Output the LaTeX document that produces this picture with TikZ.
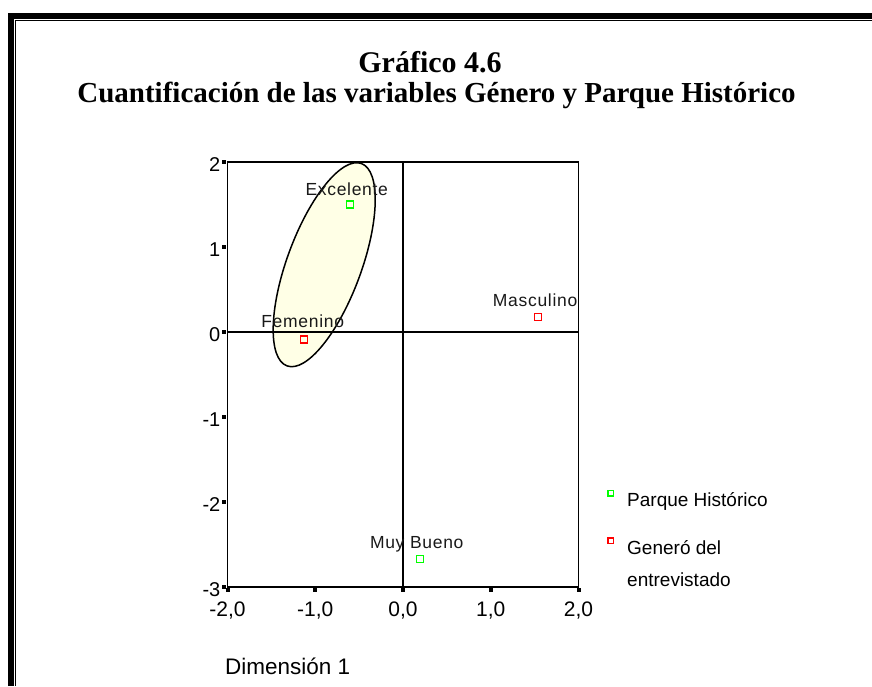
\documentclass[tikz,border=0pt]{standalone}
\usepackage{fontspec}
\setmainfont{Liberation Serif}
\setsansfont{Liberation Sans}
\newfontfamily\ptfont[LetterSpace=4]{Liberation Sans}
\usetikzlibrary{positioning}

\definecolor{ellfill}{RGB}{255,255,230}
\definecolor{markgreen}{RGB}{0,255,0}
\definecolor{markred}{RGB}{255,0,0}

\tikzset{
  gmark/.style={rectangle, draw=markgreen, line width=1.4pt, minimum size=7pt, inner sep=0pt},
  rmark/.style={gmark, draw=markred},
  legmark/.style={minimum size=5.5pt, line width=1.3pt},
  ptlabel/.style={anchor=base, inner sep=0pt, text=black!90, font={\ptfont\fontsize{17.5}{17.5}\selectfont}},
  ticklabel/.style={inner sep=0pt, font={\sffamily\fontsize{20}{20}\selectfont}},
  legtext/.style={anchor=base west, inner sep=0pt, font={\sffamily\fontsize{19}{19}\selectfont}},
  axisline/.style={line width=1.8pt},
}

\begin{document}
\begin{tikzpicture}[x=1pt, y=-1pt]

\useasboundingbox (0,0) rectangle (872,686);

% double frame round the page
\draw [line width=6pt, line join=miter] (11,686) -- (11,16) -- (872,16);
\draw [line width=1.2pt, line join=miter] (15.6,686) -- (15.6,20.6) -- (872,20.6);

\node [anchor=base, inner sep=0pt, font={\bfseries\fontsize{30}{30}\selectfont}] (title)
 at (430, 72.7) {Gráfico 4.6};
\node [anchor=base, inner sep=0pt, font={\bfseries\fontsize{29}{29}\selectfont}] (subtitle)
 at (436.5, 102.7) {Cuantificación de las variables Género y Parque Histórico};

% highlighted group
\draw [line width=1.5pt, fill=ellfill, rotate around={69.8:(324.2,264.7)}]
 (324.2,264.7) ellipse [x radius=107.8pt, y radius=37.2pt];

\begin{scope}[shift={(403,332)}, x=87.75pt, y=85pt]

\draw [axisline] (-2,-3) rectangle (2,2);
\draw [axisline] (-2,0) -- (2,0);
\draw [axisline] (0,-3) -- (0,2);

\foreach \yv in {-3,...,2}{
  \fill ([xshift=-5.5pt, yshift=-2pt]-2,\yv) rectangle ([xshift=-2pt, yshift=2pt]-2,\yv);
  \node [ticklabel, anchor=base east] (ytick\yv) at ([xshift=-7pt, yshift=-9pt]-2,\yv) {\yv};
}
\foreach \xv/\xt in {-2/{-2,0}, -1/{-1,0}, 0/{0,0}, 1/{1,0}, 2/{2,0}}{
  \fill ([xshift=-2pt, yshift=-1.3pt]\xv,-3) rectangle ([xshift=2pt, yshift=-4.7pt]\xv,-3);
  \node [ticklabel, anchor=base, font={\sffamily\fontsize{21}{21}\selectfont}] (xtick\xv)
   at ([yshift=-29.7pt]\xv,-3) {\xt};
}

\node [gmark] (excel) at (-0.607, 1.50) {};
\node [rmark] (fem) at (-1.125, -0.09) {};
\node [rmark] (masc) at (1.54, 0.18) {};
\node [gmark] (muyb) at (0.194, -2.67) {};

\node [ptlabel] (excel-lab) at ([xshift=-3pt, yshift=9.5pt]excel.center) {Excelente};
\node [ptlabel] (fem-lab) at ([xshift=-1.6pt, yshift=12pt]fem.center) {Femenino};
\node [ptlabel] (masc-lab) at ([xshift=-3pt, yshift=10pt]masc.center) {Masculino};
\node [ptlabel] (muyb-lab) at ([xshift=-3.3pt, yshift=10.7pt]muyb.center) {Muy Bueno};

\end{scope}

% legend
\node [gmark, legmark] (leg-parque) at (610.7, 493.3) {};
\node [rmark, legmark] (leg-genero) at (610.7, 540.7) {};
\node [legtext] (leg-parque-txt) at (627, 506) {Parque Histórico};
\node [legtext] (leg-genero-txt) at (627, 554.3) {Generó del};
\node [legtext] (leg-genero-txt2) at (627, 586) {entrevistado};

\node [anchor=base west, inner sep=0pt, font={\sffamily\fontsize{22.5}{22.5}\selectfont}] (dim1)
 at (225, 674.3) {Dimensión 1};

\end{tikzpicture}
\end{document}
